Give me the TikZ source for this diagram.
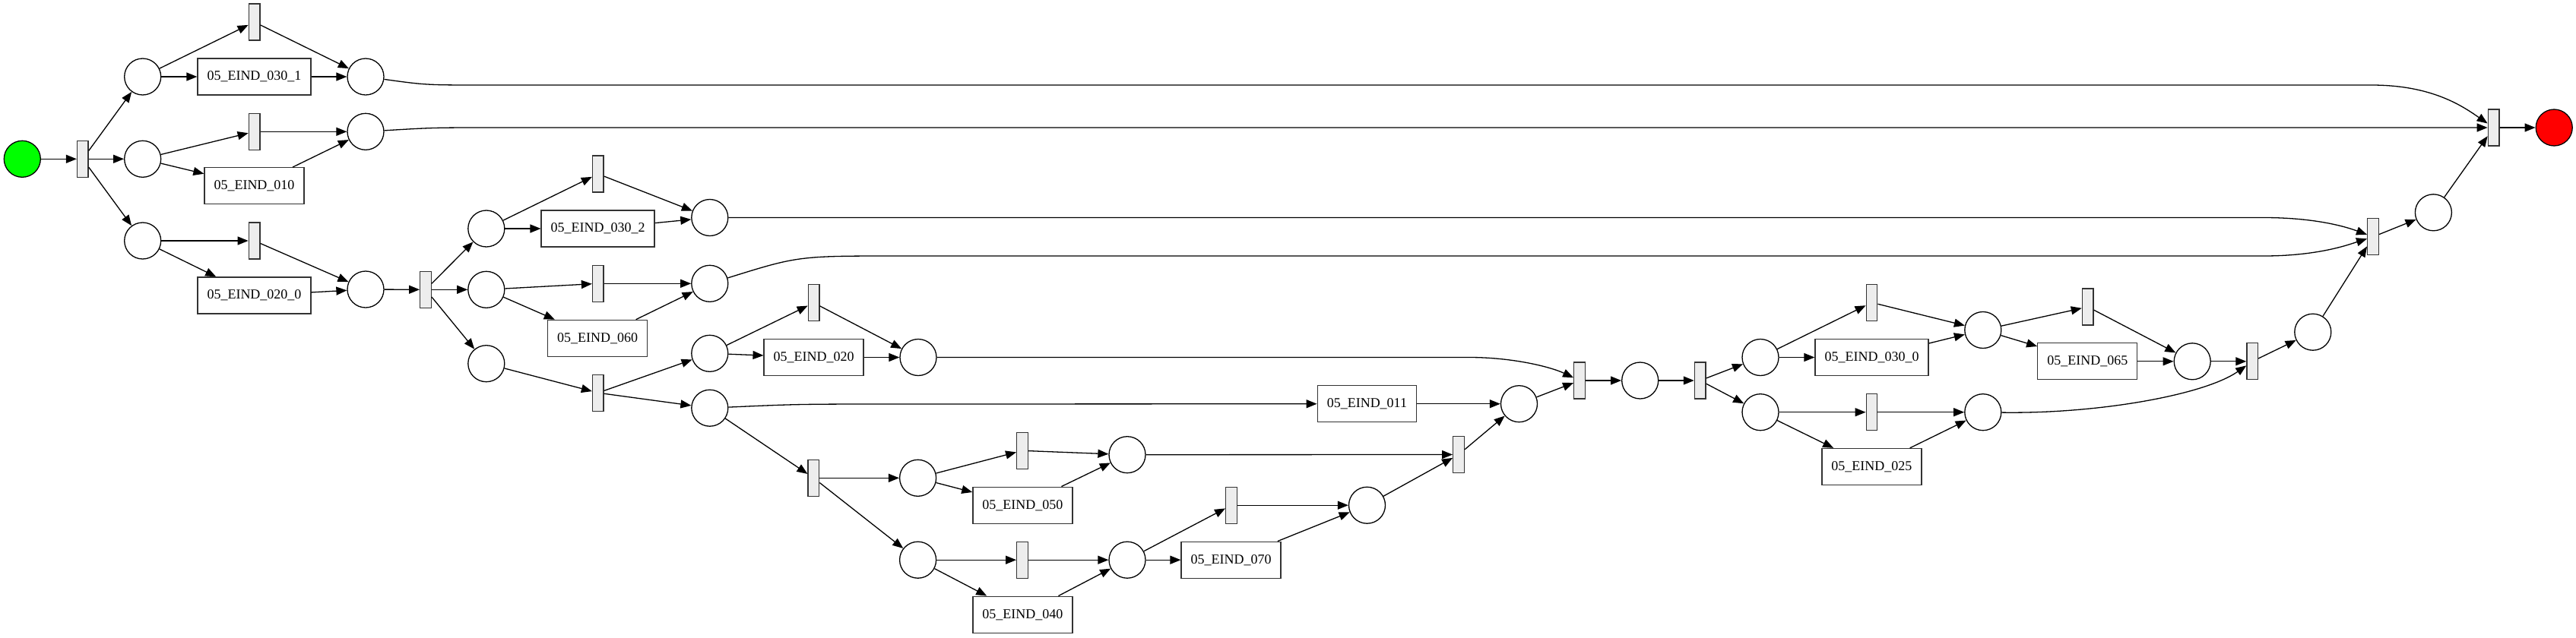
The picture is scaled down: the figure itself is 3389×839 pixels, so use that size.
\documentclass[tikz,border=0pt]{standalone}
\usepackage{fontspec}
\setmainfont{Liberation Serif}
\usetikzlibrary{arrows.meta}

\begin{document}
\begin{tikzpicture}[x=1pt,y=-1pt,line width=1.3pt,
    >={Triangle[length=14pt,width=11pt]},
    plc/.style={draw,circle,minimum size=48pt,inner sep=0pt},
    tau/.style={draw=black!80,fill=black!7,minimum width=14.6pt,
      minimum height=48pt,inner sep=0pt},
    act/.style={draw=black!80,fill=white,minimum height=48pt,
      inner xsep=12.5pt,font=\fontsize{18}{20}\selectfont}]
  \useasboundingbox (0,0) rectangle (3389,839);

  % places
  \node[plc,fill=green] (p0) at (29.3,209.3) {};
  \node[plc] (p1) at (187.7,101) {};
  \node[plc] (p2) at (187.7,209.3) {};
  \node[plc] (p3) at (187.7,317) {};
  \node[plc] (p4) at (481,101) {};
  \node[plc] (p5) at (481,173.3) {};
  \node[plc] (p6) at (481,381) {};
  \node[plc] (p7) at (639.8,301) {};
  \node[plc] (p8) at (639.8,381.3) {};
  \node[plc] (p9) at (639.8,478.7) {};
  \node[plc] (p10) at (933.8,286.5) {};
  \node[plc] (p11) at (933.8,373.3) {};
  \node[plc] (p12) at (933.8,465.3) {};
  \node[plc] (p13) at (933.8,537.2) {};
  \node[plc] (p14) at (1208,470.5) {};
  \node[plc] (p15) at (1207.6,629.3) {};
  \node[plc] (p16) at (1207.6,737.2) {};
  \node[plc] (p17) at (1483,598.7) {};
  \node[plc] (p18) at (1483,737.2) {};
  \node[plc] (p19) at (1798.5,665.2) {};
  \node[plc] (p20) at (1998.5,531.7) {};
  \node[plc] (p21) at (2157.7,501) {};
  \node[plc] (p22) at (2316,470.5) {};
  \node[plc] (p23) at (2316,542.7) {};
  \node[plc] (p24) at (2608.8,434.5) {};
  \node[plc] (p25) at (2608.8,542.7) {};
  \node[plc] (p26) at (2884.2,475.8) {};
  \node[plc] (p27) at (3042.8,437.2) {};
  \node[plc] (p28) at (3201.4,279.8) {};
  \node[plc,fill=red] (p29) at (3360.2,168) {};

  % silent transitions
  \node[tau] (t0) at (108.8,209.3) {};
  \node[tau] (t1) at (334.6,29) {};
  \node[tau] (t2) at (334.6,173.3) {};
  \node[tau] (t3) at (334.6,317) {};
  \node[tau] (t4) at (560,381.3) {};
  \node[tau] (t5) at (786.8,229) {};
  \node[tau] (t6) at (786.8,373.3) {};
  \node[tau] (t7) at (786.8,517.2) {};
  \node[tau] (t8) at (1070.6,398.7) {};
  \node[tau] (t9) at (1070.4,629.3) {};
  \node[tau] (t10) at (1345,593.3) {};
  \node[tau] (t11) at (1345,737.2) {};
  \node[tau] (t12) at (1620,665.2) {};
  \node[tau] (t13) at (1919,598.5) {};
  \node[tau] (t14) at (2078,501) {};
  \node[tau] (t15) at (2236.7,501) {};
  \node[tau] (t16) at (2462.5,398.3) {};
  \node[tau] (t17) at (2462.5,542.7) {};
  \node[tau] (t18) at (2746.7,404) {};
  \node[tau] (t19) at (2963.2,475.8) {};
  \node[tau] (t20) at (3122,311.8) {};
  \node[tau] (t21) at (3280.6,168) {};

  % labelled transitions
  \node[act] (e0301) at (334.5,101) {05\_EIND\_030\_1};
  \node[act] (e010) at (334.5,244.7) {05\_EIND\_010};
  \node[act] (e0200) at (334.5,389) {05\_EIND\_020\_0};
  \node[act] (e0302) at (786.6,301) {05\_EIND\_030\_2};
  \node[act] (e060) at (786.2,445.3) {05\_EIND\_060};
  \node[act] (e020) at (1070.6,470.5) {05\_EIND\_020};
  \node[act] (e011) at (1798.4,531.7) {05\_EIND\_011};
  \node[act] (e050) at (1345.4,665.2) {05\_EIND\_050};
  \node[act] (e040) at (1345.4,809.2) {05\_EIND\_040};
  \node[act] (e070) at (1619.6,737.2) {05\_EIND\_070};
  \node[act] (e0300) at (2462.5,470.5) {05\_EIND\_030\_0};
  \node[act] (e065) at (2746.3,475.8) {05\_EIND\_065};
  \node[act] (e025) at (2462.4,614.5) {05\_EIND\_025};

  \foreach \a/\b in {p0/t0,t0/p1,t0/p2,t0/p3,
      p1/t1,p1/e0301,t1/p4,e0301/p4,p2/t2,p2/e010,t2/p5,e010/p5,
      p3/t3,p3/e0200,t3/p6,e0200/p6,p6/t4,t4/p7,t4/p8,t4/p9,
      p7/t5,p7/e0302,t5/p10,e0302/p10,p8/t6,p8/e060,t6/p11,e060/p11,
      p9/t7,t7/p12,t7/p13,p12/t8,p12/e020,t8/p14,e020/p14,
      p13/t9,t9/p15,t9/p16,p15/t10,p15/e050,t10/p17,e050/p17,
      p16/t11,p16/e040,t11/p18,e040/p18,p18/t12,p18/e070,t12/p19,e070/p19,
      p17/t13,p19/t13,t13/p20,e011/p20,p20/t14,t14/p21,p21/t15,
      t15/p22,t15/p23,p22/t16,p22/e0300,t16/p24,e0300/p24,
      p24/t18,p24/e065,t18/p26,e065/p26,p23/t17,p23/e025,t17/p25,e025/p25,
      p26/t19,t19/p27,p27/t20,t20/p28,p28/t21,t21/p29}
    \draw[->] (\a)--(\b);

  % long arcs
  \draw[->] (p4) .. controls (560,112) .. (640,112) -- (3120,112)
    .. controls (3200,112) and (3240,140) .. (t21);
  \draw[->] (p5) .. controls (570,168) .. (650,168) -- (t21);
  \draw[->] (p10) -- (2978,286.5) .. controls (3050,286.5) and (3090,300) .. (t20);
  \draw[->] (p11) .. controls (1050,337) .. (1180,337) -- (2978,337)
    .. controls (3050,337) and (3090,322) .. (t20);
  \draw[->] (p13) .. controls (1050,532) .. (1190,532) -- (e011);
  \draw[->] (p14) -- (1933,470.5) .. controls (1990,470.5) and (2040,483) .. (t14);
  \draw[->] (p25) .. controls (2760,545) and (2900,520) .. (t19);
\end{tikzpicture}
\end{document}
